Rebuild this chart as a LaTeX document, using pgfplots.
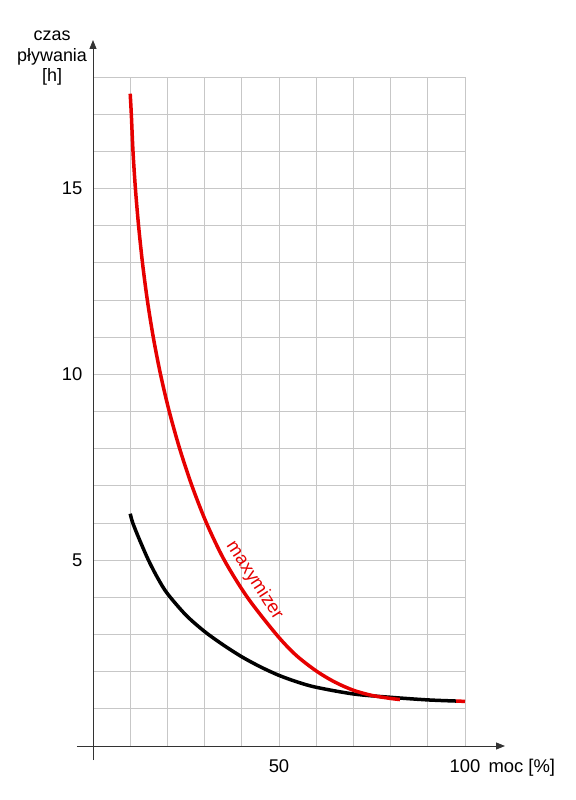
\documentclass[border=0pt]{standalone}
\usepackage{fontspec}
\setmainfont{Liberation Sans}
\usepackage{pgfplots}
\pgfplotsset{compat=1.18}
\usetikzlibrary{arrows.meta}
\definecolor{cred}{RGB}{230,0,0}
\begin{document}
\begin{tikzpicture}
\begin{axis}[
  scale only axis, width=372bp, height=669bp,
  xmin=0, xmax=100, ymin=0, ymax=18,
  axis lines=middle,
  axis line style={black!80, line width=0.9bp},
  x axis line style={-{Triangle[length=9bp,width=7bp]}, shorten <=-16bp, shorten >=-40bp},
  y axis line style={-{Triangle[length=9bp,width=7bp]}, shorten <=-14bp, shorten >=-37bp},
  xtick={10,20,30,40,50,60,70,80,90,100},
  xticklabels={,,,,50,,,,,100},
  ytick={1,2,3,4,5,6,7,8,9,10,11,12,13,14,15,16,17,18},
  yticklabels={,,,,5,,,,,10,,,,,15,,,},
  major tick length=0pt,
  grid=major, major grid style={black!22, line width=0.8bp},
  tick label style={font=\fontsize{18.5}{22}\selectfont},
  /pgf/number format/assume math mode=true,
  xticklabel style={anchor=base, yshift=-26bp},
  yticklabel style={anchor=east, xshift=-7bp},
  clip=false,
]
\addplot[black, line width=3.5bp, smooth] coordinates {
 (10,6.25) (10.7,6.0) (12.5,5.55) (15,4.98) (17.5,4.5) (20,4.1) (25,3.52) (30,3.08) (35,2.72)
 (40,2.4) (45,2.13) (50,1.9) (55,1.72) (60,1.58) (70,1.4) (80,1.31) (90,1.24) (97.6,1.21)};
\addplot[cred, line width=3.5bp, smooth] coordinates {
 (10,17.55) (10.3,17) (10.75,16) (11.4,15) (12.25,14) (13.3,13) (14.6,12) (16.2,11)
 (18.15,10) (20.5,9) (23.3,8) (26.6,7) (30.5,6) (35.3,5) (41.5,4) (49.3,3) (54.5,2.45)
 (60,2.02) (65,1.72) (70,1.5) (75,1.36) (80,1.28) (82.5,1.25)};
\addplot[cred, line width=3.5bp] coordinates {(97.6,1.21) (100,1.2)};
\node[cred, rotate=-57, font=\fontsize{18.5}{22}\selectfont] at (axis cs:43.4,4.45) {maxymizer};
\node[align=center, font=\fontsize{18}{20.5}\selectfont] at (rel axis cs:-0.110,1.028) {czas\\pływania\\{[h]}};
\node[anchor=base west, font=\fontsize{18.5}{22}\selectfont] at ([xshift=20bp,yshift=-26bp]rel axis cs:1,0) {moc [\%]};
\end{axis}
\path (-93bp,-54bp) rectangle (483bp,746bp);
\end{tikzpicture}
\end{document}
